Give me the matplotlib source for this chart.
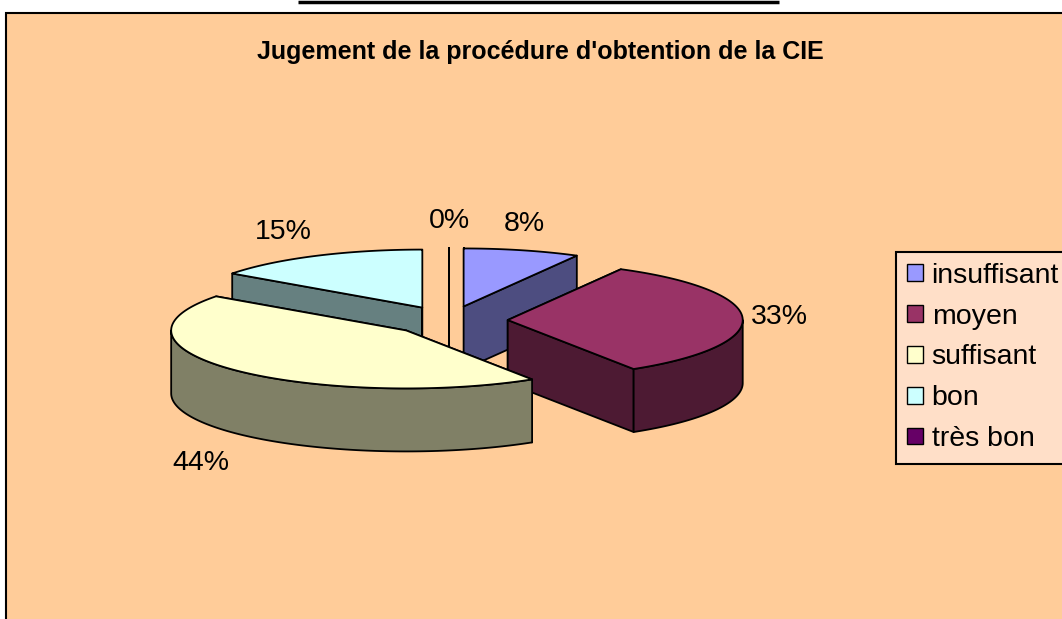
import numpy as np
import matplotlib.pyplot as plt
from matplotlib.patches import Polygon, Rectangle, Patch
from matplotlib.colors import to_rgb

# data
labels = ['insuffisant', 'moyen', 'suffisant', 'bon', 'très bon']
values = [8, 33, 44, 15, 0]
colors = ['#9999FF', '#993366', '#FFFFCC', '#CCFFFF', '#660066']
title = "Jugement de la procédure d'obtention de la CIE"

plt.rcParams['font.family'] = ['Liberation Sans', 'DejaVu Sans']

fig = plt.figure(figsize=(10.62, 6.19), dpi=100)
ax = fig.add_axes([0, 0, 1, 1])
ax.set_xlim(0, 1062)
ax.set_ylim(619, 0)
ax.axis('off')

# chart area + the cell border above it
ax.add_patch(Rectangle((6, 13), 1200, 800, facecolor='#FFCC99',
                       edgecolor='black', lw=1.5, zorder=0))
ax.plot([298, 779], [1.5, 1.5], color='black', lw=2.5, solid_capstyle='butt')

ax.text(540, 52, title, ha='center', va='center', fontsize=18,
        fontweight='bold')

# 3d pie geometry (pixels)
cx, cy = 449, 320.5
rx, ry = 235, 58
depth = 63
explode = 0.25
edge = dict(edgecolor='black', lw=1.3, joinstyle='round')


def shade(c):
    return tuple(0.5 * v for v in to_rgb(c))


def rim(theta, ox, oy):
    t = np.radians(theta)
    return ox + rx * np.sin(t), oy - ry * np.cos(t)


fracs = np.array(values, dtype=float) / sum(values)
ends = np.cumsum(fracs) * 360
starts = ends - fracs * 360
mids = (starts + ends) / 2
offx = cx + explode * rx * np.sin(np.radians(mids))
offy = cy - explode * ry * np.cos(np.radians(mids))

# back to front
for i in np.argsort(offy):
    s, e, ox, oy = starts[i], ends[i], offx[i], offy[i]
    top, side = colors[i], shade(colors[i])

    for a in (s, e):
        x, y = rim(a, ox, oy)
        ax.add_patch(Polygon([(ox, oy), (x, y), (x, y + depth), (ox, oy + depth)],
                             facecolor=side, **edge))

    lo, hi = max(s, 90), min(e, 270)
    if hi > lo:
        th = np.linspace(lo, hi, 120)
        x, y = rim(th, ox, oy)
        pts = np.r_[np.c_[x, y], np.c_[x[::-1], y[::-1] + depth]]
        ax.add_patch(Polygon(pts, facecolor=side, **edge))

    th = np.linspace(s, e, 200)
    x, y = rim(th, ox, oy)
    pts = np.r_[[[ox, oy]], np.c_[x, y]]
    ax.add_patch(Polygon(pts, facecolor=top, **edge))

# percent labels
for i in range(len(values)):
    t = np.radians(mids[i])
    x, y = rim(mids[i], offx[i], offy[i])
    sn, cs = np.sin(t), np.cos(t)
    if cs < 0:
        y += depth
    pad = 27 if cs > 0 else 44
    ha = 'left' if sn > 0.4 else ('right' if sn < -0.4 else 'center')
    ax.text(x + 8 * sn, y - pad * cs, f'{fracs[i] * 100:.0f}%',
            ha=ha, va='center', fontsize=20.5)

handles = [Patch(facecolor=c, edgecolor='black', lw=1) for c in colors]
leg = ax.legend(handles, labels, loc='upper left',
                bbox_to_anchor=(896 / 1062, 1 - 251.5 / 619),
                bbox_transform=fig.transFigure, fontsize=20.5,
                frameon=True, fancybox=False, framealpha=1,
                facecolor='#FFDFC8', edgecolor='black',
                borderpad=0.4, labelspacing=0.52, handlelength=0.55,
                handleheight=0.52, handletextpad=0.3, borderaxespad=0)
leg.get_frame().set_linewidth(1.5)

fig.savefig('out.png', dpi=100)
